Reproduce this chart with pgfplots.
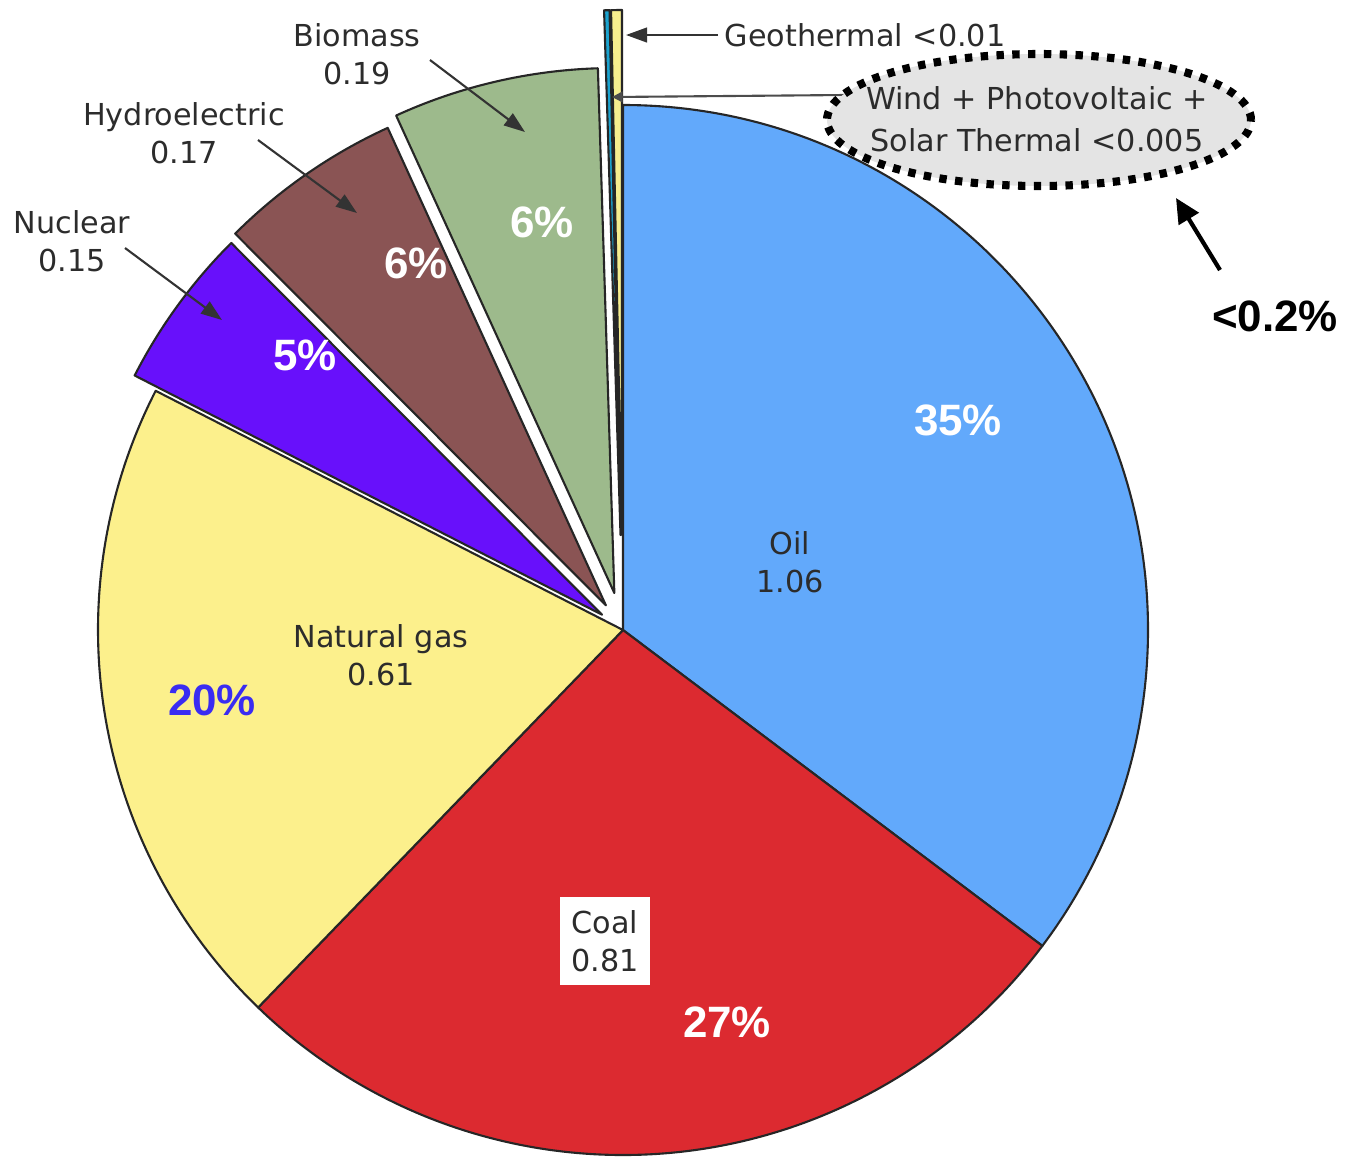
\documentclass[border=0pt]{standalone}
\usepackage{pgfplots}
\pgfplotsset{compat=1.18}
\usepackage{pgfplotstable}
\usepackage{fontspec}
\setmainfont{DejaVu Sans}
\newfontfamily\pctfont{Liberation Sans}
\usetikzlibrary{arrows.meta}

\definecolor{oilc}{HTML}{62A9FB}
\definecolor{coalc}{HTML}{DC2A30}
\definecolor{gasc}{HTML}{FCF08C}
\definecolor{nucc}{HTML}{6810FB}
\definecolor{hydc}{HTML}{8A5454}
\definecolor{bioc}{HTML}{9DBA8C}
\definecolor{windc}{HTML}{1BA3CF}
\definecolor{geoc}{HTML}{F6EE8E}
\definecolor{labc}{HTML}{2C2C2C}
\definecolor{pctblue}{HTML}{3A2CF2}
\definecolor{ovalc}{HTML}{E4E4E4}

% primary energy by source (values as labelled), slice colour, explode offset
\pgfplotstableread{
source  value  colour explode
Oil     1.06   oilc   0
Coal    0.81   coalc  0
Gas     0.61   gasc   0
Nuclear 0.15   nucc   26
Hydro   0.17   hydc   30
Biomass 0.19   bioc   38
Wind    0.005  windc  95
Geo     0.01   geoc   95
}\energy

\newcommand\lab{\fontsize{8.6}{10.8}\selectfont}
\newcommand\pct{\pctfont\bfseries\fontsize{12.5}{14}\selectfont}

\begin{document}
\begin{tikzpicture}
\begin{axis}[
  scale only axis, width=134.8mm, height=115.6mm,
  xmin=0, xmax=1348, ymin=0, ymax=1156, y dir=reverse,
  hide axis, clip=false]
\path (axis cs:0,0) rectangle (axis cs:1348,1156);

% total of all sources
\xdef\total{0}
\pgfplotsinvokeforeach{0,...,7}{%
  \pgfplotstablegetelem{#1}{value}\of\energy
  \pgfmathparse{\total+\pgfplotsretval}\xdef\total{\pgfmathresult}%
}

% slices, clockwise from the top
\xdef\astart{90}
\pgfplotsinvokeforeach{0,...,7}{%
  \pgfplotstablegetelem{#1}{value}\of\energy \let\wval\pgfplotsretval
  \pgfplotstablegetelem{#1}{colour}\of\energy \let\wcol\pgfplotsretval
  \pgfplotstablegetelem{#1}{explode}\of\energy \let\wexp\pgfplotsretval
  \pgfmathsetmacro\aend{\astart-360*\wval/\total}%
  \pgfmathsetmacro\amid{(\astart+\aend)/2}%
  \pgfmathsetmacro\eoff{\wexp*0.1}%
  \edef\slicepath{\noexpand\filldraw[fill=\wcol, draw=black!85, line width=0.6pt, line join=round]
    ([shift={(\amid:\eoff mm)}]axis cs:623,630) -- ++(\astart:52.5mm)
    arc[start angle=\astart, end angle=\aend, radius=52.5mm] -- cycle;}%
  \slicepath
  \xdef\astart{\aend}%
}

% callout arrows
\begin{scope}[draw=black!80, line width=0.6pt, -{Triangle[length=6pt,width=4.2pt]}]
  \draw (axis cs:430,60) -- (axis cs:525,132);
  \draw (axis cs:258,140) -- (axis cs:357,213);
  \draw (axis cs:125,248) -- (axis cs:222,320);
  \draw (axis cs:718,35) -- (axis cs:626,35);
\end{scope}
\draw[draw=black!70, line width=0.6pt, -{Triangle[length=3pt,width=3pt]}]
  (axis cs:845,95) -- (axis cs:612,97);

% source labels
\begin{scope}[every node/.style={font=\lab, text=labc, align=center, inner sep=0pt}]
  \node at (axis cs:357,54) {Biomass\\0.19};
  \node at (axis cs:184,133) {Hydroelectric\\0.17};
  \node at (axis cs:72,241) {Nuclear\\0.15};
  \node at (axis cs:790,562) {Oil\\1.06};
  \node at (axis cs:381,655) {Natural gas\\0.61};
  \node[anchor=west] at (axis cs:724,35) {Geothermal <0.01};
  \node[fill=white, minimum width=9mm, minimum height=8.8mm] at (axis cs:605,941) {Coal\\0.81};
\end{scope}

% small renewables
\draw[fill=ovalc, line width=2.3pt, dash pattern=on 2.1pt off 2.4pt]
  (axis cs:1039,120) ellipse [x radius=21.2mm, y radius=6.6mm];
\node[font=\fontsize{8.6}{12}\selectfont, text=labc, align=center, inner sep=0pt]
  at (axis cs:1037,119) {Wind + Photovoltaic +\\Solar Thermal <0.005};
\draw[line width=1.2pt, -{Triangle[length=7pt,width=6.5pt]}]
  (axis cs:1220,270) -- (axis cs:1176,198);
\node[font=\pct, text=black, inner sep=0pt] at (axis cs:1275,316) {<0.2\%};

% shares
\begin{scope}[every node/.style={font=\pct, text=white, inner sep=0pt}]
  \node at (axis cs:958,420) {35\%};
  \node at (axis cs:727,1022) {27\%};
  \node[text=pctblue] at (axis cs:212,700) {20\%};
  \node at (axis cs:305,355) {5\%};
  \node at (axis cs:416,263) {6\%};
  \node at (axis cs:542,222) {6\%};
\end{scope}
\end{axis}
\end{tikzpicture}
\end{document}
